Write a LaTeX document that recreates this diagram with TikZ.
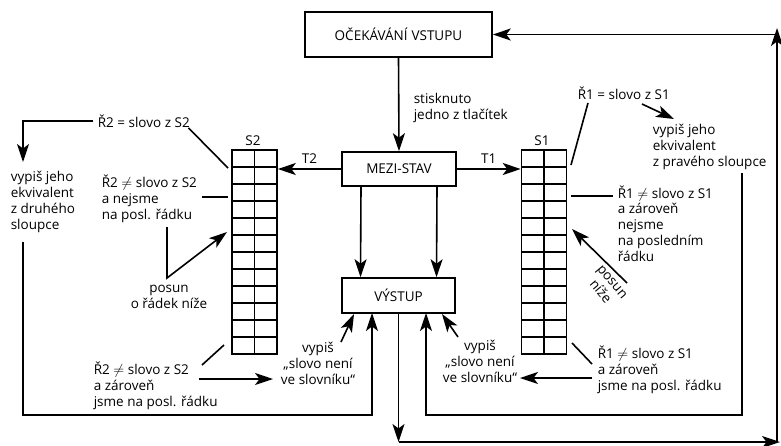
\documentclass[tikz,border=0pt]{standalone}
\usepackage{fontspec}
\setmainfont{Open Sans}
\usetikzlibrary{arrows.meta}

\begin{document}
\begin{tikzpicture}[x=1pt, y=-1pt, line width=1.6pt,
  >={Stealth[length=18pt, width=12pt, inset=4.5pt]},
  state/.style={draw, inner sep=0pt, font=\fontsize{13.5}{15}\selectfont},
  tab/.style={draw, inner sep=0pt, minimum width=45pt, minimum height=204pt},
  txt/.style={inner sep=0pt, align=left, anchor=base west, font=\fontsize{13.5}{15.7}\selectfont},
  ctxt/.style={txt, align=center, anchor=base}]
  \useasboundingbox (0,0) rectangle (781,445);

  % stavy
  \node[state, minimum width=187pt, minimum height=45pt] (wait) at (398.5,34.5)
    {OČEKÁVÁNÍ\hspace{0.3em}VSTUPU};
  \node[state, minimum width=114pt, minimum height=34pt] (mezi) at (399,169) {MEZI-STAV};
  \node[state, minimum width=113pt, minimum height=35pt] (vystup) at (398.5,295.5) {VÝSTUP};

  % tabulky S2 a S1
  \node[tab] (tabS2) at (254.5,252) {};
  \node[tab] (tabS1) at (544,252) {};
  \foreach \r in {1,...,11} {
    \draw (232,150+17*\r) -- (277,150+17*\r);
    \draw (521.5,150+17*\r) -- (566.5,150+17*\r);
  }
  \draw (tabS2.north) -- (tabS2.south);
  \draw (tabS1.north) -- (tabS1.south);
  \node[ctxt] (lS2) at (253,145) {S2};
  \node[ctxt] (lS1) at (542,145) {S1};

  % hlavni tok
  \draw[->] (wait.south) -- (mezi.north);
  \node[txt] (press) at (413,119) {stisknuto\\jedno z tlačítek};
  \draw[->] (mezi.west) -- (mezi.west -| tabS2.east) node[ctxt, midway, above=5pt] (t2) {T2};
  \draw[->] (mezi.east) -- (mezi.east -| tabS1.west) node[ctxt, midway, above=5pt] (t1) {T1};
  \draw[->] ([xshift=-38pt]mezi.south) -- ([xshift=-38pt]vystup.north);
  \draw[->] ([xshift=38pt]mezi.south) -- ([xshift=38pt]vystup.north);

  % navrat do cekani
  \coordinate (loopS) at (398.5,442);
  \coordinate (loopSE) at (780,442);
  \coordinate (loopE) at (777,442);
  \coordinate (loopNE) at (777,28);
  \draw[->] (vystup.south) -- (loopS);
  \draw[->] (loopS) -- (loopSE);
  \draw[->] (loopE) -- (loopNE);
  \draw[->] (777,34.5) -- (wait.east);

  % ---------------- S2 (vlevo) ----------------
  \node[txt] (r2eq) at (97,127) {Ř2 = slovo z S2};
  \node[txt] (eqS2) at (10,229) {vypiš jeho\\ekvivalent\\z druhého\\sloupce};
  \coordinate (turnL) at (23,162);
  \draw[->] ([xshift=-4pt]r2eq.west) -| (turnL);
  \coordinate (s2top) at (228,168);
  \draw ([xshift=-2pt]r2eq.south east) -- (s2top);

  \node[txt] (r2ne) at (101,219) {Ř2 $\neq$ slovo z S2\\a nejsme\\na posl. řádku};
  \coordinate (r2neA) at (202,197);
  \coordinate (r2neB) at (228,197);
  \draw (r2neA) -- (r2neB);

  \node[ctxt] (posL) at (169,308) {posun\\o řádek níže};
  \coordinate (posLa) at (167,227);
  \coordinate (posLb) at (167,278);
  \coordinate (posLc) at (227,232);
  \draw[->] (posLa) -- (posLb) -- (posLc);

  \node[txt] (r2end) at (93,406) {Ř2 $\neq$ slovo z S2\\a zároveň\\jsme na posl. řádku};
  \coordinate (r2endA) at (202,365);
  \coordinate (r2endB) at (224,345);
  \draw (r2endA) -- (r2endB);
  \node[ctxt] (notL) at (318,384) {vypiš\\„slovo není\\ve slovníku“};
  \coordinate (r2endC) at (199,379);
  \coordinate (notLa) at (273,379);
  \draw[->] (r2endC) -- (notLa);
  \coordinate (notLb) at (341,342);
  \coordinate (notLc) at (354,314);
  \draw[->] (notLb) -- (notLc);

  \coordinate (loopLa) at (23,242);
  \coordinate (loopLb) at (23,415);
  \coordinate (loopLc) at (372,415);
  \coordinate (loopLd) at (372,313);
  \draw[->] (loopLa) -- (loopLb) -- (loopLc) -- (loopLd);

  % ---------------- S1 (vpravo) ----------------
  \node[txt] (r1eq) at (577,99) {Ř1 = slovo z S1};
  \node[txt] (eqS1) at (652,166) {vypiš jeho\\ekvivalent\\z pravého sloupce};
  \coordinate (r1a) at (588,103);
  \coordinate (s1top) at (571,165);
  \draw (r1a) -- (s1top);
  \coordinate (r1b) at (642,104);
  \coordinate (r1c) at (674,119);
  \draw[->] (r1b) -- (r1c);

  \node[txt] (r1ne) at (617,261) {Ř1 $\neq$ slovo z S1\\a zároveň\\nejsme\\na posledním\\řádku};
  \coordinate (r1neA) at (571,196);
  \coordinate (r1neB) at (613,196);
  \draw (r1neA) -- (r1neB);

  \node[txt, align=center, anchor=center, rotate=-50] (posR) at (606,287) {posun\\níže};
  \coordinate (posRa) at (627,283);
  \coordinate (posRb) at (572,229);
  \draw[->] (posRa) -- (posRb);

  \node[txt] (r1end) at (597,390) {Ř1 $\neq$ slovo z S1\\a zároveň\\jsme na posl. řádku};
  \coordinate (r1endA) at (572,343);
  \coordinate (r1endB) at (592,364);
  \draw (r1endA) -- (r1endB);
  \node[ctxt] (notR) at (480,382) {vypiš\\„slovo není\\ve slovníku“};
  \coordinate (r1endC) at (592,378);
  \coordinate (notRa) at (520,378);
  \draw[->] (r1endC) -- (notRa);
  \coordinate (notRb) at (458,337);
  \coordinate (notRc) at (442,314);
  \draw[->] (notRb) -- (notRc);

  \coordinate (loopRa) at (742,173);
  \coordinate (loopRb) at (742,415);
  \coordinate (loopRc) at (426,415);
  \coordinate (loopRd) at (426,313);
  \draw[->] (loopRa) -- (loopRb) -- (loopRc) -- (loopRd);
\end{tikzpicture}
\end{document}
